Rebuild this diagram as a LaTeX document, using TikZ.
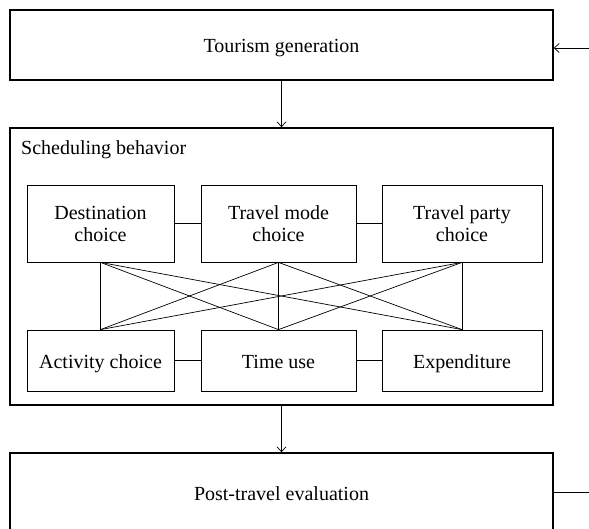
\documentclass[tikz,border=0pt]{standalone}
\usepackage{fontspec}
\setmainfont{Liberation Serif}
\usetikzlibrary{arrows.meta}
\begin{document}
\begin{tikzpicture}[x=1pt,y=-1pt,
 txt/.style={font=\fontsize{20}{22}\selectfont},
 outer/.style={draw,line width=1.4pt,inner sep=0pt,txt,minimum width=543pt,text height=16pt,text depth=0pt},
 inbox/.style={draw,line width=0.8pt,inner sep=0pt,align=center,txt},
 toprow/.style={inbox,minimum height=77pt},
 botrow/.style={inbox,minimum height=61pt,text height=16pt,text depth=0pt},
 link/.style={line width=0.7pt},
 flow/.style={line width=0.7pt,-{Straight Barb[length=5pt,width=9pt]}}]
\useasboundingbox (0,0) rectangle (589,529);
\node[outer,minimum height=70pt] (tg) at (281.5,45) {Tourism generation};
\node[outer,minimum height=277pt] (sb) at (281.5,266.5) {};
\node[txt,anchor=base west,inner sep=0pt] (sbl) at (21,155) {Scheduling behavior};
\node[outer,minimum height=78pt] (pt) at (281.5,492) {Post-travel evaluation};
% inner boxes
\node[toprow,minimum width=147pt] (dc) at (100.5,223.5) {Destination\\choice};
\node[toprow,minimum width=155pt] (tm) at (278.5,223.5) {Travel mode\\choice};
\node[toprow,minimum width=160pt] (tp) at (462,223.5) {Travel party\\choice};
\node[botrow,minimum width=147pt] (ac) at (100.5,360.5) {Activity choice};
\node[botrow,minimum width=155pt] (tu) at (278.5,360.5) {Time use};
\node[botrow,minimum width=160pt] (ex) at (462,360.5) {Expenditure};
% horizontal links
\draw[link] (dc) -- (tm);
\draw[link] (tm) -- (tp);
\draw[link] (ac) -- (tu);
\draw[link] (tu) -- (ex);
% cross links
\foreach \a in {dc,tm,tp}{
  \foreach \b in {ac,tu,ex}{
    \draw[link] (\a.south) -- (\b.north);
  }
}
% flows
\draw[flow] (tg) -- (sb);
\draw[flow] (sb) -- (pt);
\coordinate (fin) at (592,48);
\coordinate (fout) at (592,492);
\draw[flow] (fin) -- (tg.east |- fin);
\draw[link] (pt.east |- fout) -- (fout);
\end{tikzpicture}
\end{document}
